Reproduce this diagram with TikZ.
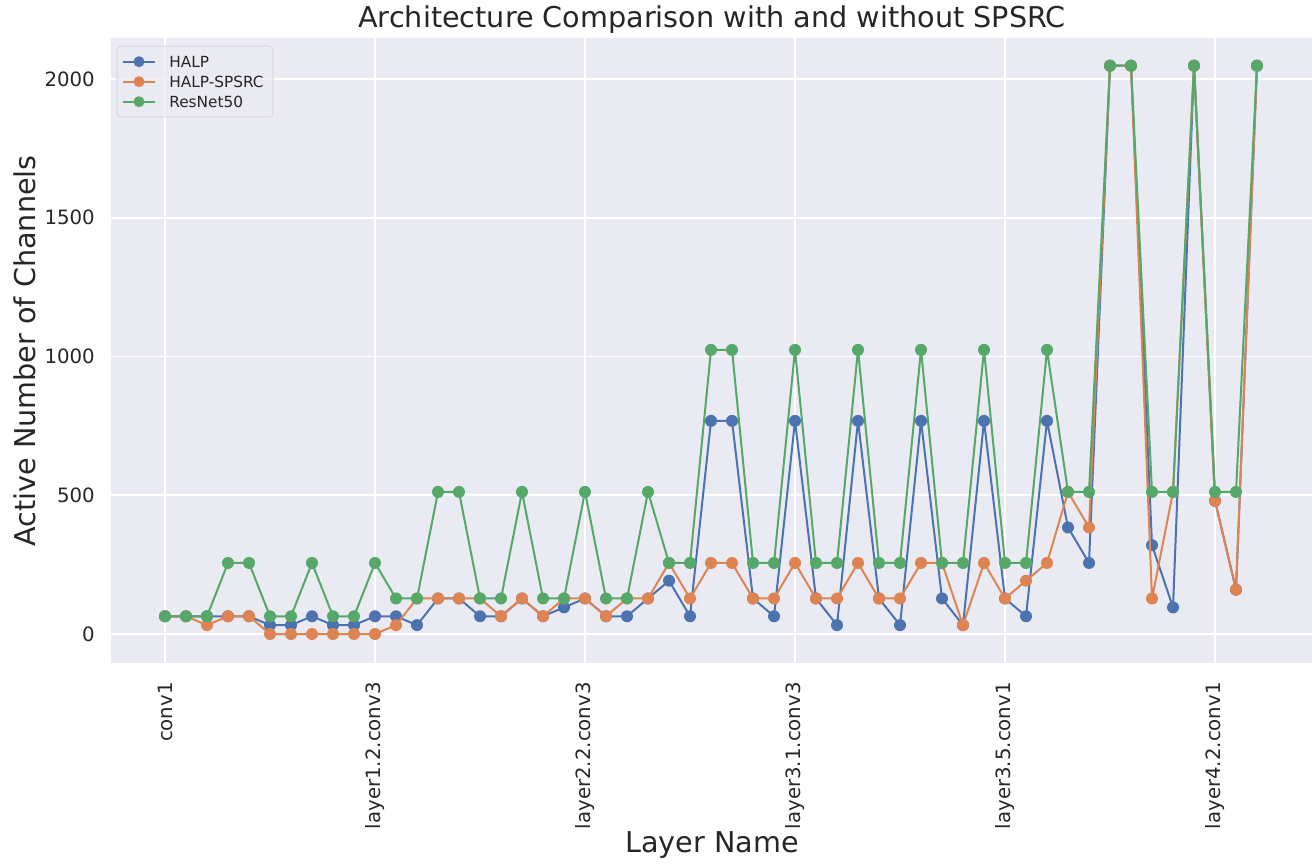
\documentclass[tikz,border=0pt]{standalone}
\usepackage{fontspec}
\setmainfont{DejaVu Sans}
\usetikzlibrary{calc}
\definecolor{halpblue}{HTML}{4C72B0}
\definecolor{spsrcorange}{HTML}{DD8452}
\definecolor{resgreen}{HTML}{55A868}
\definecolor{axbg}{HTML}{EAEAF2}
\definecolor{legedge}{HTML}{CCCCCC}
\definecolor{txt}{HTML}{262626}

\begin{document}
\begin{tikzpicture}[x=0.75pt, y=-0.75pt, every node/.style={text=txt, inner sep=0pt},
    ticklab/.style={font=\fontsize{14.8}{17}\selectfont},
    biglab/.style={font=\fontsize{21.5}{25}\selectfont},
    leglab/.style={font=\fontsize{11.5}{14}\selectfont, anchor=west},
    series/.style={line width=1.5pt, line join=round}]

  \useasboundingbox (0,0) rectangle (1312,865);

  % Axes and grid
  \fill[axbg] (111,38) rectangle (1312,663);
  \foreach \i/\lab in {0/conv1,10/layer1.2.conv3,20/layer2.2.conv3,30/layer3.1.conv3,40/layer3.5.conv1,50/layer4.2.conv1} {
    \draw[white, line width=1.3pt] ({165+21*\i},38) -- ({165+21*\i},663);
    \node[ticklab, rotate=90, anchor=east] (xt\i) at ({165+21*\i},682) {\lab};
  }
  \foreach \v in {0,500,1000,1500,2000} {
    \draw[white, line width=1.3pt] (111,{634-0.2775*\v}) -- (1312,{634-0.2775*\v});
    \node[ticklab, anchor=east] (yt\v) at (95,{634-0.2775*\v}) {\v};
  }

  % HALP
  \foreach \v [count=\n from 0] in {64,64,64,64,64,32,32,64,32,32,64,64,32,128,128,64,64,128,64,96,128,64,64,128,192,64,768,768,128,64,768,128,32,768,128,32,768,128,32,768,128,64,768,384,256,2048,2048,320,96,2048,480,160,2048}
    \coordinate (b\n) at ({165+21*\n},{634-0.2775*\v});
  \draw[series, halpblue] (b0) \foreach \n in {1,...,52} { -- (b\n) };
  \foreach \n in {0,...,52} \fill[halpblue] (b\n) circle (6);

  % HALP-SPSRC
  \foreach \v [count=\n from 0] in {64,64,32,64,64,0,0,0,0,0,0,32,128,128,128,128,64,128,64,128,128,64,128,128,256,128,256,256,128,128,256,128,128,256,128,128,256,256,32,256,128,192,256,512,384,2048,2048,128,512,2048,480,160,2048}
    \coordinate (o\n) at ({165+21*\n},{634-0.2775*\v});
  \draw[series, spsrcorange] (o0) \foreach \n in {1,...,52} { -- (o\n) };
  \foreach \n in {0,...,52} \fill[spsrcorange] (o\n) circle (6);

  % ResNet50
  \foreach \v [count=\n from 0] in {64,64,64,256,256,64,64,256,64,64,256,128,128,512,512,128,128,512,128,128,512,128,128,512,256,256,1024,1024,256,256,1024,256,256,1024,256,256,1024,256,256,1024,256,256,1024,512,512,2048,2048,512,512,2048,512,512,2048}
    \coordinate (g\n) at ({165+21*\n},{634-0.2775*\v});
  \draw[series, resgreen] (g0) \foreach \n in {1,...,52} { -- (g\n) };
  \foreach \n in {0,...,52} \fill[resgreen] (g\n) circle (6);

  % Legend
  \draw[legedge, fill=axbg, fill opacity=0.8, rounded corners=3] (117,46) rectangle (273,117);
  \foreach \k/\col/\lab in {0/halpblue/HALP,1/spsrcorange/HALP-SPSRC,2/resgreen/ResNet50} {
    \coordinate (la\k) at (123,{61.7+20*\k});
    \coordinate (lb\k) at (155,{61.7+20*\k});
    \draw[series, \col] (la\k) -- (lb\k);
    \fill[\col] ($(la\k)!0.5!(lb\k)$) circle (5.5);
    \node[leglab] (leg\k) at (169,{61.7+20*\k}) {\lab};
  }

  % Labels
  \node[biglab] (title) at (712,20) {Architecture Comparison with and without SPSRC};
  \node[biglab] (xlab) at (712,845) {Layer Name};
  \node[biglab, rotate=90] (ylab) at (25,351) {Active Number of Channels};

\end{tikzpicture}
\end{document}
